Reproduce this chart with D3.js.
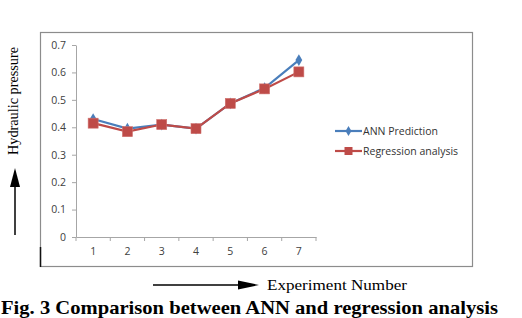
<!DOCTYPE html>
<html>
<head>
<meta charset="utf-8">
<script src="https://cdn.jsdelivr.net/npm/d3@7"></script>
<style>
  body { margin: 0; background: #fff; overflow: hidden; }
  svg { display: block; }
</style>
</head>
<body>
<div id="chart"></div>
<script>
// --- DATA ---
const experiments = [1, 2, 3, 4, 5, 6, 7];
const annPrediction = [0.43, 0.395, 0.41, 0.395, 0.487, 0.543, 0.645];
const regressionAnalysis = [0.415, 0.384, 0.41, 0.395, 0.487, 0.54, 0.602];
const yTicks = [0, 0.1, 0.2, 0.3, 0.4, 0.5, 0.6, 0.7];

// --- LAYOUT ---
const WIDTH = 522, HEIGHT = 318;
const PLOT = { left: 76, right: 316, top: 45, bottom: 237 };
const BLUE = "#4a7ebb", RED = "#be4b48";

const svg = d3.select("#chart").append("svg")
  .attr("width", WIDTH).attr("height", HEIGHT);

// chart frame
svg.append("rect")
  .attr("x", 40.5).attr("y", 32.5).attr("width", 432).attr("height", 234)
  .attr("fill", "none").attr("stroke", "#8c8c8c").attr("stroke-width", 1.2);
svg.append("line")
  .attr("x1", 40.5).attr("x2", 40.5).attr("y1", 247).attr("y2", 267)
  .attr("stroke", "#111").attr("stroke-width", 1.5);

const x = d3.scaleBand().domain(experiments).range([PLOT.left, PLOT.right]);
const y = d3.scaleLinear().domain([0, 0.7]).range([PLOT.bottom, PLOT.top]);

// y axis
const yAxis = svg.append("g")
  .attr("transform", `translate(${PLOT.left},0)`)
  .call(d3.axisLeft(y).tickValues(yTicks).tickFormat(d => d === 0 ? "0" : d3.format(".1f")(d))
    .tickSize(4).tickPadding(6).tickSizeOuter(0));
yAxis.select(".domain").attr("stroke", "#a6a6a6");
yAxis.selectAll(".tick line").attr("stroke", "#a6a6a6");
yAxis.selectAll("text").attr("font-family", "'Open Sans', sans-serif")
  .attr("font-size", "10.5px").attr("fill", "#404040");

// x axis
const xAxis = svg.append("g")
  .attr("transform", `translate(0,${PLOT.bottom})`)
  .call(d3.axisBottom(x).tickSize(0).tickPadding(11));
xAxis.select(".domain").attr("stroke", "#a6a6a6");
xAxis.selectAll("text").attr("font-family", "'Open Sans', sans-serif")
  .attr("font-size", "10.5px").attr("fill", "#404040");
// category boundary ticks
const bounds = experiments.map(d => x(d)).concat([x(experiments[6]) + x.bandwidth()]);
xAxis.selectAll("line.bound").data(bounds).join("line")
  .attr("class", "bound")
  .attr("x1", d => d).attr("x2", d => d).attr("y1", 0).attr("y2", 4)
  .attr("stroke", "#a6a6a6");

const cx = d => x(d) + x.bandwidth() / 2;
const line = d3.line().x((d, i) => cx(experiments[i])).y(d => y(d));

// ANN series
svg.append("path").datum(annPrediction)
  .attr("d", line).attr("fill", "none").attr("stroke", BLUE).attr("stroke-width", 2.2);
svg.selectAll("path.ann").data(annPrediction).join("path")
  .attr("class", "ann")
  .attr("d", d3.symbol(d3.symbolDiamond, 40))
  .attr("transform", (d, i) => `translate(${cx(experiments[i])},${y(d)})`)
  .attr("fill", BLUE);

// Regression series
svg.append("path").datum(regressionAnalysis)
  .attr("d", line).attr("fill", "none").attr("stroke", RED).attr("stroke-width", 2.2);
svg.selectAll("rect.reg").data(regressionAnalysis).join("rect")
  .attr("class", "reg")
  .attr("x", (d, i) => cx(experiments[i]) - 5).attr("y", d => y(d) - 5)
  .attr("width", 10).attr("height", 10)
  .attr("fill", RED).attr("stroke", "#d0706c").attr("stroke-width", 0.6);

// legend
const legend = [
  { name: "ANN Prediction", color: BLUE, sym: "diamond" },
  { name: "Regression analysis", color: RED, sym: "square" }
];
const lg = svg.selectAll("g.legend").data(legend).join("g")
  .attr("class", "legend")
  .attr("transform", (d, i) => `translate(335,${131 + i * 20})`);
lg.append("line").attr("x1", 0).attr("x2", 27).attr("stroke", d => d.color).attr("stroke-width", 2.2);
lg.append("path")
  .attr("d", d => d.sym === "diamond" ? d3.symbol(d3.symbolDiamond, 30)() : d3.symbol(d3.symbolSquare, 64)())
  .attr("transform", "translate(13.5,0)").attr("fill", d => d.color);
lg.append("text").attr("x", 28).attr("dy", "0.35em")
  .attr("font-family", "'Open Sans', sans-serif").attr("font-size", "10.5px").attr("fill", "#333")
  .text(d => d.name);

// y label + arrow
svg.append("text")
  .attr("transform", "translate(18,101) rotate(-90)")
  .attr("text-anchor", "middle")
  .attr("font-family", "'Liberation Serif', serif").attr("font-size", "14px").attr("fill", "#000")
  .attr("textLength", 108).attr("lengthAdjust", "spacingAndGlyphs")
  .text("Hydraulic pressure");
svg.append("line").attr("x1", 15).attr("x2", 15).attr("y1", 235).attr("y2", 185)
  .attr("stroke", "#000").attr("stroke-width", 1.5);
svg.append("path").attr("d", "M15,168 L10,187 L20,187 Z").attr("fill", "#000");

// x label + arrow
svg.append("line").attr("x1", 153).attr("x2", 245).attr("y1", 285).attr("y2", 285)
  .attr("stroke", "#000").attr("stroke-width", 1.3);
svg.append("path").attr("d", "M259,285 L238,280.5 L238,289.5 Z").attr("fill", "#000");
svg.append("text").attr("x", 267).attr("y", 290)
  .attr("font-family", "'Liberation Serif', serif").attr("font-size", "15px").attr("fill", "#000")
  .attr("textLength", 140).attr("lengthAdjust", "spacingAndGlyphs")
  .text("Experiment Number");

// caption
svg.append("text").attr("x", 1).attr("y", 314)
  .attr("font-family", "'Liberation Serif', serif").attr("font-weight", "bold")
  .attr("font-size", "19px").attr("fill", "#000")
  .attr("textLength", 497).attr("lengthAdjust", "spacingAndGlyphs")
  .text("Fig. 3 Comparison between ANN and regression analysis");
</script>
</body>
</html>
